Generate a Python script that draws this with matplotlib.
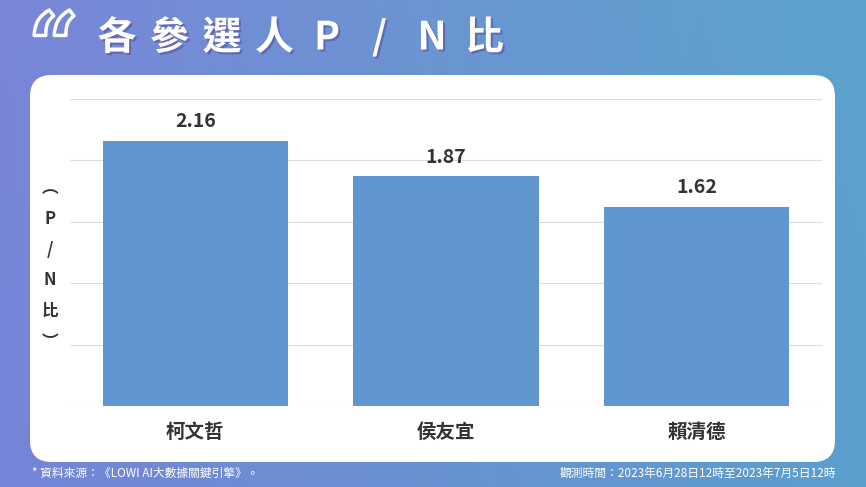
import matplotlib
matplotlib.use("Agg")
import matplotlib.pyplot as plt
import numpy as np
from matplotlib.patches import FancyBboxPatch
import matplotlib.patheffects as pe

plt.rcParams['font.family'] = ['Noto Sans CJK TC', 'DejaVu Sans']

categories = ['柯文哲', '侯友宜', '賴清德']
values = [2.16, 1.87, 1.62]
title = '各參選人P/N比'

W, H = 866, 487
fig = plt.figure(figsize=(W/100, H/100), dpi=100)

bg = fig.add_axes([0, 0, 1, 1])
xx = np.linspace(0, 1, 300)
yy = np.linspace(0, 1, 200)
X, Y = np.meshgrid(xx, yy)
c1 = np.array([0x7a, 0x86, 0xd8]) / 255
c2 = np.array([0x5b, 0xa4, 0xcc]) / 255
c3 = np.array([0x5a, 0x7e, 0xd6]) / 255
t = X[..., None]
img = c1 * (1 - t) + c2 * t
img = img * (0.85 + 0.15 * Y[..., None]) + c3 * (0.15 * (1 - Y[..., None]))
bg.imshow(img, extent=[0, 1, 0, 1], aspect='auto', origin='lower')
bg.set_xlim(0, 1); bg.set_ylim(0, 1); bg.axis('off')

panel = FancyBboxPatch((30/W, 1 - 462/H), 805/W, 387/H,
                       boxstyle="round,pad=0,rounding_size=0.025",
                       transform=bg.transAxes, fc='white', ec='none', mutation_aspect=W/H)
bg.add_patch(panel)

q = bg.text(28/W, 1 - 8/H, '“', fontsize=64, color='none', fontweight='bold', va='top', ha='left',
            family='DejaVu Serif')
q.set_path_effects([pe.withStroke(linewidth=2.5, foreground='white')])
for i, ch in enumerate(title):
    bg.text((117 + 52.5 * i)/W, 1 - 38/H, ch, fontsize=28, color='white', fontweight='bold',
            va='center', ha='center',
            path_effects=[pe.withSimplePatchShadow(offset=(1.5, -1.5), shadow_rgbFace='#5a4fa0', alpha=0.6)])
bg.text(32/W, 1 - 473/H, '* 資料來源：《LOWI AI大數據關鍵引擎》。', fontsize=8.5, color='white', va='center', ha='left')
bg.text(836/W, 1 - 473/H, '觀測時間：2023年6月28日12時至2023年7月5日12時', fontsize=8.5, color='white', va='center', ha='right')

ax = fig.add_axes([70/W, 1 - 406/H, 752/W, 307/H])
ax.set_facecolor('none')
x = np.arange(len(categories))
ax.bar(x, values, width=0.74, color='#6096d0', zorder=3)
for xi, v in zip(x, values):
    ax.text(xi, v + 0.08, f'{v:.2f}', ha='center', va='bottom', fontsize=14, fontweight='bold', color='#333333')
ax.set_xlim(-0.5, 2.5)
ax.set_ylim(0, 2.5)
ax.set_yticks(np.arange(0, 2.51, 0.5))
ax.set_yticklabels([])
ax.tick_params(axis='y', length=0)
ax.tick_params(axis='x', length=0, pad=12)
ax.set_xticks(x)
ax.set_xticklabels(categories, fontsize=14, fontweight='bold', color='#333333')
ax.grid(axis='y', color='#dddddd', lw=0.8, zorder=0)
for s in ax.spines.values():
    s.set_visible(False)
ax.axhline(0, color='#cccccc', lw=0.8, zorder=4)

bg.text(50/W, 1 - 265/H, '︵\nP\n/\nN\n比\n︶', fontsize=12, fontweight='bold', color='#333333',
        ha='center', va='center', linespacing=1.9)

fig.savefig('out.png', dpi=100)
